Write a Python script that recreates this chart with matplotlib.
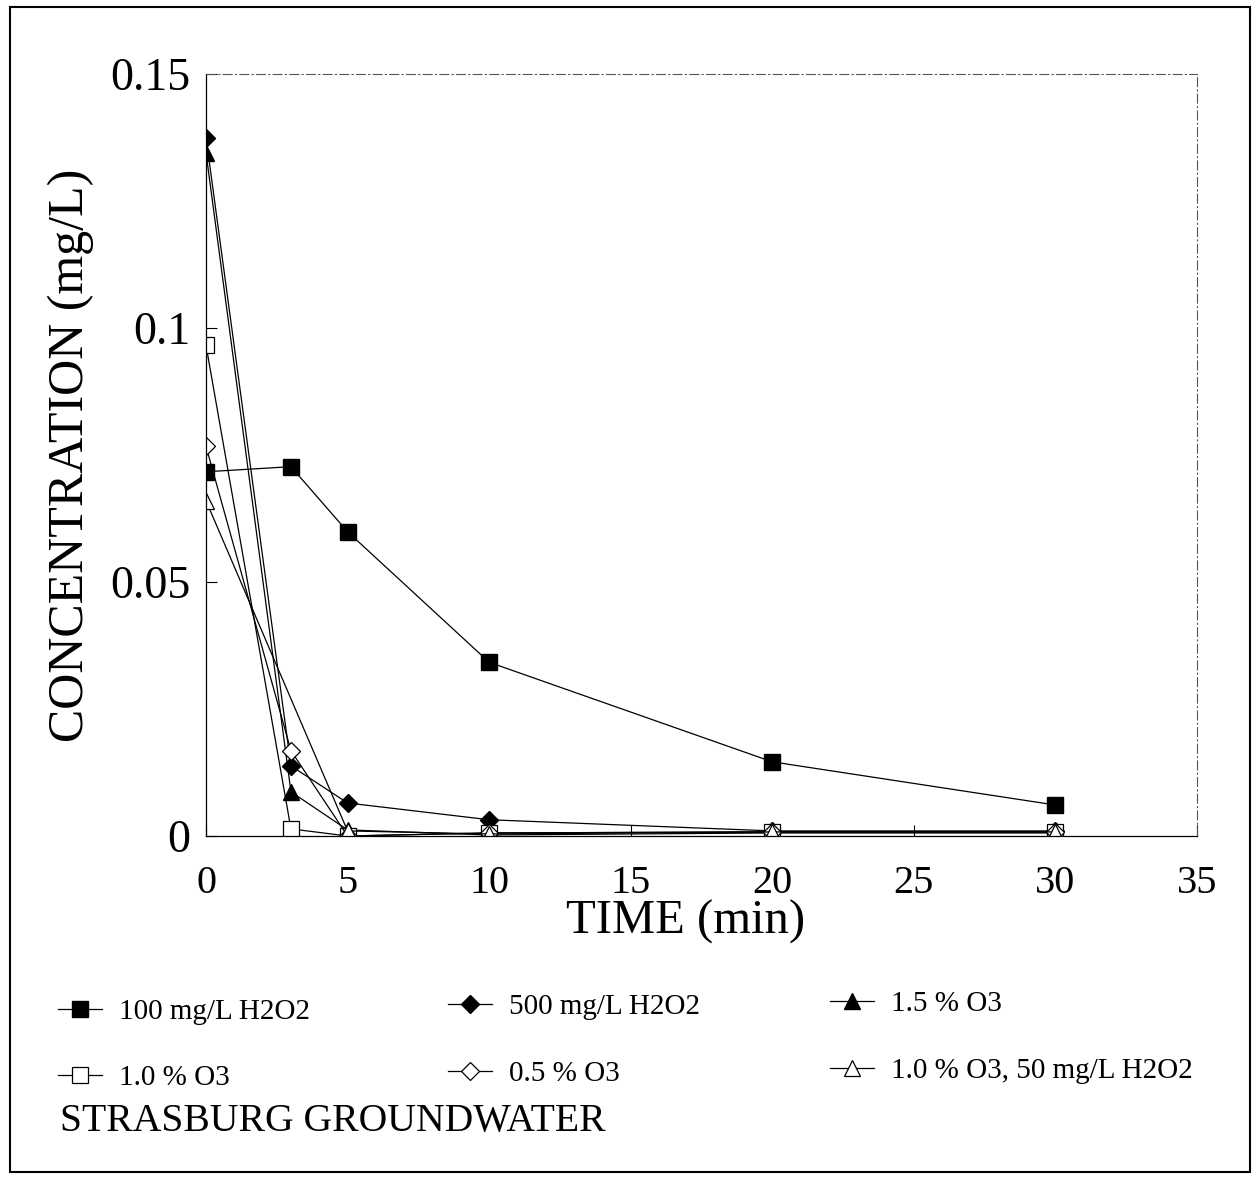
import matplotlib
matplotlib.use("Agg")
import matplotlib.pyplot as plt
from matplotlib.ticker import FuncFormatter
from matplotlib.patches import Rectangle

plt.rcParams['font.family'] = ['Liberation Serif', 'DejaVu Serif']

time_a = [0, 3, 5, 10, 20, 30]
time_b = [0, 5, 10, 20, 30]

h2o2_100 = [0.0717, 0.0727, 0.0599, 0.0342, 0.0146, 0.0061]
h2o2_500 = [0.1375, 0.0138, 0.0065, 0.0032, 0.0010, 0.0010]
o3_15 = [0.1345, 0.0087, 0.0012, 0.0002, 0.0006, 0.0006]
o3_10 = [0.0966, 0.0014, 0.0000, 0.0006, 0.0008, 0.0008]
o3_05 = [0.0767, 0.0168, 0.0000, 0.0006, 0.0008, 0.0008]
o3_10_h2o2_50 = [0.0660, 0.0010, 0.0004, 0.0008, 0.0008]

labels = ["100 mg/L H2O2", "500 mg/L H2O2", "1.5 % O3",
          "1.0 % O3", "0.5 % O3", "1.0 % O3, 50 mg/L H2O2"]

xticks = [0, 5, 10, 15, 20, 25, 30, 35]
yticks = [0, 0.05, 0.1, 0.15]

fig = plt.figure(figsize=(12.56, 11.78), dpi=100)
ax = fig.add_axes([206/1256, 1-836/1178, (1197-206)/1256, (836-74)/1178])

kw = dict(color='black', lw=0.9)
l1, = ax.plot(time_a, h2o2_100, marker='s', ms=11, mfc='black', mec='black', label=labels[0], **kw)
l2, = ax.plot(time_a, h2o2_500, marker='D', ms=9.5, mfc='black', mec='black', label=labels[1], **kw)
l3, = ax.plot(time_a, o3_15, marker='^', ms=12, mfc='black', mec='black', label=labels[2], **kw)
l4, = ax.plot(time_a, o3_10, marker='s', ms=11, mfc='white', mec='black', mew=0.9, label=labels[3], **kw)
l5, = ax.plot(time_a, o3_05, marker='D', ms=9.5, mfc='white', mec='black', mew=0.9, label=labels[4], **kw)
l6, = ax.plot(time_b, o3_10_h2o2_50, marker='^', ms=12, mfc='white', mec='black', mew=0.9, label=labels[5], **kw)

ax.set_xlim(0, 35)
ax.set_ylim(0, 0.15)
ax.set_xticks(xticks)
ax.set_yticks(yticks)
ax.yaxis.set_major_formatter(FuncFormatter(lambda v, p: "%g" % v))
ax.tick_params(direction='in', length=8, width=0.8)
ax.tick_params(axis='x', pad=21, labelsize=29)
ax.tick_params(axis='y', pad=11, labelsize=33)
for s in ['top', 'right']:
    ax.spines[s].set_linestyle((0, (8, 3, 1, 3)))
    ax.spines[s].set_color('#555555')
    ax.spines[s].set_linewidth(0.8)
for s in ['left', 'bottom']:
    ax.spines[s].set_linewidth(0.9)

ax.set_xlabel("TIME (min)", fontsize=35)
ax.xaxis.set_label_coords((686-206)/991, -(922-836)/762, transform=ax.transAxes)
ax.xaxis.label.set_va('center')
ax.set_ylabel("CONCENTRATION (mg/L)", fontsize=36, labelpad=12)

# legend entries, positioned individually
handles = [l1, l2, l3, l4, l5, l6]
pos = [(58, 1012), (448, 1007), (830, 1004), (58, 1078), (448, 1074), (830, 1071)]
for h, lab, (px, py) in zip(handles, labels, pos):
    fig.legend([h], [lab], loc='center left', bbox_to_anchor=(px/1256, 1-py/1178),
               frameon=False, fontsize=21, handlelength=1.5, handletextpad=0.6,
               borderpad=0, borderaxespad=0)

fig.text(60/1256, 1-1122/1178, "STRASBURG GROUNDWATER", fontsize=28.5,
         ha='left', va='center')

fig.patches.append(Rectangle((10/1256, 1-1172/1178), 1240/1256, 1165/1178,
                             transform=fig.transFigure, fill=False,
                             edgecolor='black', lw=1.5))

fig.savefig("out.png", dpi=100)
